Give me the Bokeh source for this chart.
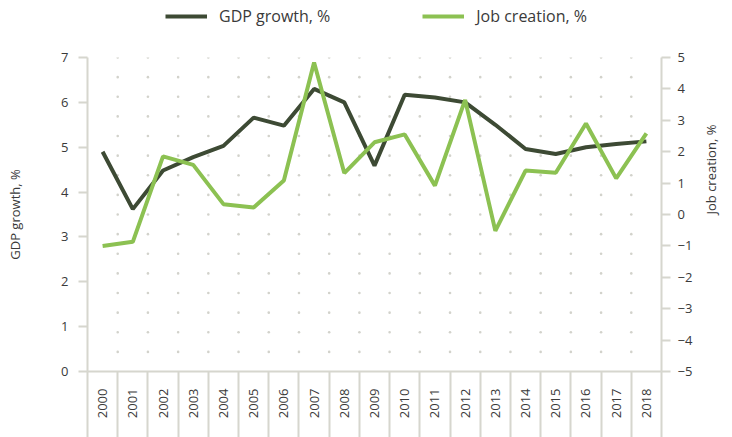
import math
import numpy as np
from bokeh.plotting import figure
from bokeh.layouts import column
from bokeh.models import (Range1d, LinearAxis, FixedTicker, Legend, LegendItem,
                          ColumnDataSource)
from bokeh.embed import file_html
from bokeh.resources import INLINE

years = [str(y) for y in range(2000, 2019)]
gdp_growth = [4.9, 3.62, 4.48, 4.78, 5.03, 5.66, 5.48, 6.3, 6.0, 4.59,
              6.17, 6.11, 6.0, 5.5, 4.96, 4.85, 5.0, 5.07, 5.13]
job_creation = [-1.0, -0.87, 1.85, 1.58, 0.33, 0.22, 1.08, 4.84, 1.32, 2.3,
                2.55, 0.92, 3.65, -0.52, 1.4, 1.33, 2.9, 1.15, 2.58]
left_ticks = [0, 1, 2, 3, 4, 5, 6, 7]
right_ticks = [-5, -4, -3, -2, -1, 0, 1, 2, 3, 4, 5]
series_names = ["GDP growth, %", "Job creation, %"]

DARK = "#3d4a34"
LIGHT = "#8cc152"
AXIS = "#d6d6ce"
TEXT = "#3a3a3a"
FONT = "Open Sans"

n = len(years)
xc = [i + 0.5 for i in range(n)]

TOP_H = 34

p = figure(width=732, height=437 - TOP_H, output_backend="svg", toolbar_location=None,
           x_range=Range1d(0, n), y_range=Range1d(0, 7),
           min_border_left=87, min_border_right=70, min_border_top=57 - TOP_H,
           min_border_bottom=66, outline_line_color=None,
           background_fill_color="white", border_fill_color="white")
p.grid.visible = False
p.xaxis.visible = False
p.yaxis.visible = False

# dotted background grid
gx, gy = np.meshgrid(np.arange(1, n), 7 - np.arange(0, 16) * 7 / 16)
p.scatter(gx.ravel(), gy.ravel(), size=2.6, color="#d2d2cb", line_color=None)

# bottom axis with category separators
xaxis = LinearAxis(ticker=FixedTicker(ticks=xc, minor_ticks=list(range(0, n + 1))))
xaxis.major_label_overrides = {x: y for x, y in zip(xc, years)}
xaxis.major_label_orientation = math.pi / 2
xaxis.major_tick_line_color = None
xaxis.major_tick_out = 0
xaxis.major_tick_in = 0
xaxis.minor_tick_out = 66
xaxis.minor_tick_in = 0
xaxis.minor_tick_line_color = AXIS
xaxis.minor_tick_line_width = 2
xaxis.axis_line_color = AXIS
xaxis.axis_line_width = 2
xaxis.major_label_text_font = FONT
xaxis.major_label_text_font_size = "13px"
xaxis.major_label_text_color = TEXT
xaxis.major_label_standoff = -49
p.add_layout(xaxis, "below")

# left axis
yl = LinearAxis(ticker=FixedTicker(ticks=left_ticks), axis_label=series_names[0])
p.add_layout(yl, "left")

# right axis
p.extra_y_ranges = {"jobs": Range1d(-5, 5)}
yr = LinearAxis(y_range_name="jobs", ticker=FixedTicker(ticks=right_ticks),
                axis_label=series_names[1])
p.add_layout(yr, "right")

for ax in (yl, yr):
    ax.axis_line_color = AXIS
    ax.axis_line_width = 2
    ax.major_tick_line_color = AXIS
    ax.major_tick_line_width = 2
    ax.major_tick_out = 9
    ax.major_tick_in = 0
    ax.minor_tick_line_color = None
    ax.major_label_text_font = FONT
    ax.major_label_text_font_size = "13px"
    ax.major_label_text_color = TEXT
    ax.axis_label_text_font = FONT
    ax.axis_label_text_font_size = "13px"
    ax.axis_label_text_font_style = "normal"
    ax.axis_label_text_color = TEXT
yl.major_label_standoff = 10
yr.major_label_standoff = 7
yl.axis_label_standoff = 34
yr.axis_label_standoff = 16
yr.axis_label_orientation = math.pi / 2

src = ColumnDataSource(dict(x=xc, gdp=gdp_growth, jobs=job_creation))
p.line("x", "gdp", source=src, line_color=DARK, line_width=4)
p.line("x", "jobs", source=src, line_color=LIGHT, line_width=4, y_range_name="jobs")

# legend strip above the chart (its frame is aligned with the chart's frame)
lf = figure(width=732, height=TOP_H, output_backend="svg", toolbar_location=None,
            x_range=Range1d(-2 * n, -n), y_range=Range1d(0, 1), min_border=0,
            outline_line_color=None, border_fill_color="white")
lf.axis.visible = False
lf.grid.visible = False
l1 = lf.line("x", "gdp", source=src, line_color=DARK, line_width=4)
l2 = lf.line("x", "jobs", source=src, line_color=LIGHT, line_width=4)
legend = Legend(items=[LegendItem(label=series_names[0], renderers=[l1]),
                       LegendItem(label=series_names[1], renderers=[l2])],
                orientation="horizontal", location=(78, 7),
                background_fill_alpha=0, border_line_color=None,
                padding=0, margin=0, spacing=92, glyph_width=42,
                glyph_height=20, label_standoff=12,
                label_text_font=FONT, label_text_font_size="16px",
                label_text_color=TEXT)
lf.add_layout(legend, "center")

layout = column(lf, p, spacing=0)
open("out.html", "w").write(file_html(layout, INLINE))
